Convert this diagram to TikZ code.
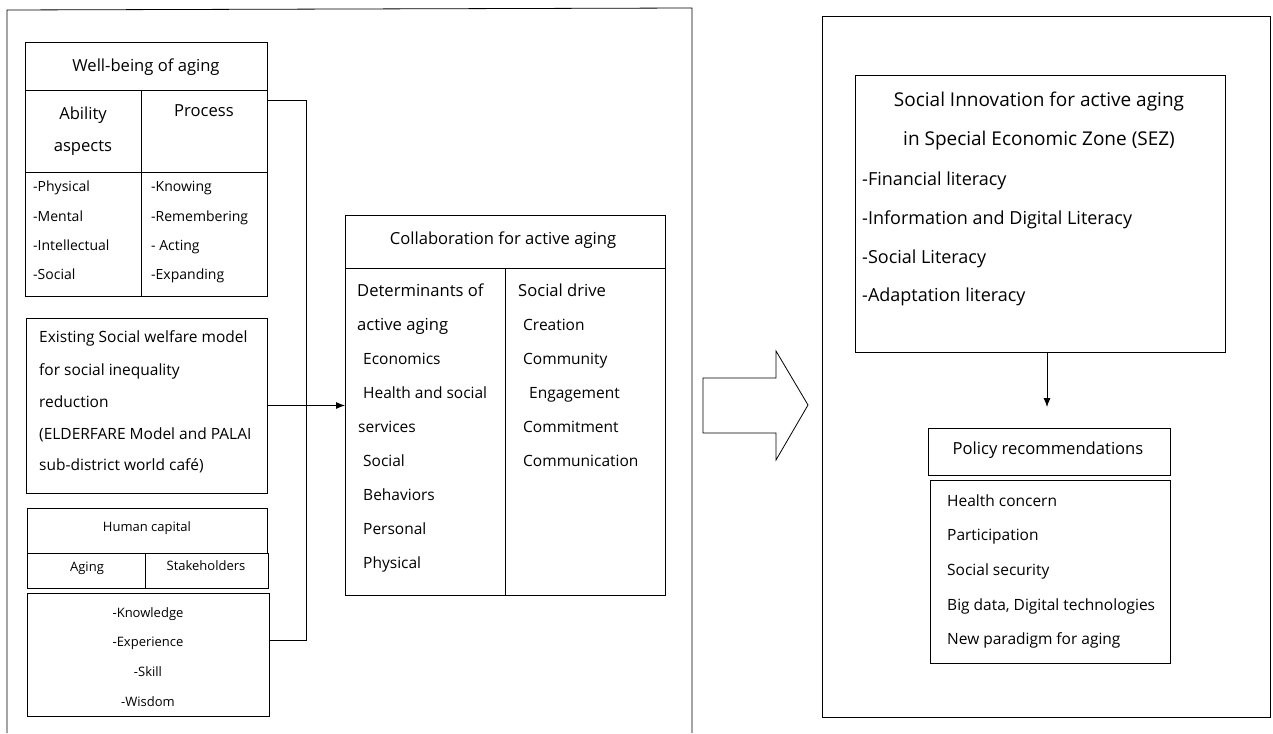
\documentclass[tikz,border=0pt]{standalone}
\usepackage{fontspec}
\setmainfont{Open Sans}
\usetikzlibrary{calc,arrows.meta}
\tikzset{
  box/.style={draw, anchor=north west, inner sep=0pt, outer sep=0pt, line width=0.8pt},
  txt/.style={inner sep=0pt, text height=1.5ex, text depth=.3ex, font=\fontsize{15.5}{17}\selectfont},
  lt/.style={txt, anchor=west},
  sm/.style={font=\fontsize{14}{16}\selectfont},
  xs/.style={font=\fontsize{13}{15}\selectfont},
  hd/.style={font=\fontsize{16.6}{18}\selectfont},
  big/.style={font=\fontsize{18}{20}\selectfont},
  ttl/.style={font=\fontsize{19}{21}\selectfont},
  conn/.style={line width=0.8pt},
  arr/.style={conn, -{Latex[length=9pt,width=7pt]}}
}
\begin{document}
\begin{tikzpicture}[x=1pt,y=-1pt]
\useasboundingbox (0,0) rectangle (1273,733);
% outer frames
\draw[conn] (7,733) -- (7,10) -- (692,8) -- (692,733);
\node[box, minimum width=448pt, minimum height=701pt] (rf) at (822,16) {};

% Well-being table
\node[box, minimum width=242pt, minimum height=254pt] (wb) at (25,42) {};
\node[box, minimum width=242pt, minimum height=48pt] (wbh) at (25,42) {};
\node[box, minimum width=116pt, minimum height=206pt] (wbc1) at (25,90) {};
\node[box, minimum width=242pt, minimum height=82pt] (wbr2) at (25,90) {};
\node[txt, hd] (wbt) at (146,68) {Well-being of aging};
\node[txt, hd] (ab1) at (83,116) {Ability};
\node[txt, hd] (ab2) at (83,148) {aspects};
\node[txt, hd] (pr0) at (204,113) {Process};
\node[lt, sm] (w1) at (33,188) {-Physical};
\node[lt, sm] (w2) at (33,218) {-Mental};
\node[lt, sm] (w3) at (33,247) {-Intellectual};
\node[lt, sm] (w4) at (33,276) {-Social};
\node[lt, sm] (w5) at (151,188) {-Knowing};
\node[lt, sm] (w6) at (151,218) {-Remembering};
\node[lt, sm] (w7) at (151,247) {- Acting};
\node[lt, sm] (w8) at (151,276) {-Expanding};

% Existing social welfare model
\node[box, minimum width=241pt, minimum height=175pt] (ex) at (26,318) {};
\node[lt] (e1) at (39,339) {Existing Social welfare model};
\node[lt] (e2) at (39,372) {for social inequality};
\node[lt] (e3) at (39,404) {reduction};
\node[lt] (e4) at (39,436) {(ELDERFARE Model and PALAI};
\node[lt] (e5) at (39,467) {sub-district world café)};

% Human capital
\node[box, minimum width=240pt, minimum height=45pt] (hc) at (27,508) {};
\node[box, minimum width=118pt, minimum height=35pt] (hca) at (27,553) {};
\node[box, minimum width=123pt, minimum height=35pt] (hcs) at (145,553) {};
\node[txt, xs] (hct) at (147,528) {Human capital};
\node[txt, xs] (hcat) at (87,568) {Aging};
\node[txt, xs] (hcst) at (206,567) {Stakeholders};
\node[box, minimum width=242pt, minimum height=123pt] (kn) at (27,593) {};
\node[txt, xs] (k1) at (148,614) {-Knowledge};
\node[txt, xs] (k2) at (148,643) {-Experience};
\node[txt, xs] (k3) at (148,673) {-Skill};
\node[txt, xs] (k4) at (148,703) {-Wisdom};

% connectors on the left
\coordinate (j1) at (306,100);
\coordinate (j2) at (306,640);
\draw[conn] (wb.east |- j1) -- (j1) -- (j2) -- (kn.east |- j2);

% Collaboration box
\node[box, minimum width=320pt, minimum height=380pt] (cb) at (345,215) {};
\node[box, minimum width=320pt, minimum height=53pt] (cbh) at (345,215) {};
\node[box, minimum width=160pt, minimum height=327pt] (cbl) at (345,268) {};
\node[txt, hd] (cbt) at (503,241) {Collaboration for active aging};
\node[lt, hd] (d1) at (357,293) {Determinants of};
\node[lt, hd] (d2) at (357,327) {active aging};
\node[lt] (d3) at (363,361) {Economics};
\node[lt] (d4) at (363,395) {Health and social};
\node[lt] (d5) at (358,429) {services};
\node[lt] (d6) at (363,463) {Social};
\node[lt] (d7) at (363,497) {Behaviors};
\node[lt] (d8) at (363,531) {Personal};
\node[lt] (d9) at (363,565) {Physical};
\node[lt, hd] (s1) at (518,293) {Social drive};
\node[lt] (s2) at (523,327) {Creation};
\node[lt] (s3) at (523,361) {Community};
\node[lt] (s4) at (529,395) {Engagement};
\node[lt] (s5) at (523,429) {Commitment};
\node[lt] (s6) at (523,463) {Communication};

\draw[arr] (ex.east) -- (ex.east -| cb.west);

% Big arrow
\draw[conn] (703,378) -- (776,378) -- (776,351) -- (808,405) -- (776,460) -- (776,433) -- (703,433) -- cycle;

% Social innovation box
\node[box, minimum width=370pt, minimum height=277pt] (si) at (855,75) {};
\node[txt, ttl] (si1) at (1039,103) {Social Innovation for active aging};
\node[txt, ttl] (si2) at (1039,142) {in Special Economic Zone (SEZ)};
\node[lt, big] (si3) at (862,182) {-Financial literacy};
\node[lt, big] (si4) at (862,221) {-Information and Digital Literacy};
\node[lt, big] (si5) at (862,260) {-Social Literacy};
\node[lt, big] (si6) at (862,298) {-Adaptation literacy};

% Policy
\node[box, minimum width=242pt, minimum height=47pt] (pr) at (928,428) {};
\node[txt, hd] (prt) at (1048,451) {Policy recommendations};
\node[box, minimum width=240pt, minimum height=183pt] (pl) at (930,480) {};
\node[lt] (p1) at (947,503) {Health concern};
\node[lt] (p2) at (947,537) {Participation};
\node[lt] (p3) at (947,572) {Social security};
\node[lt] (p4) at (947,607) {Big data, Digital technologies};
\node[lt] (p5) at (947,641) {New paradigm for aging};

\coordinate (ae) at (1047,407);
\draw[arr] (si.south -| ae) -- (ae);
\end{tikzpicture}
\end{document}
